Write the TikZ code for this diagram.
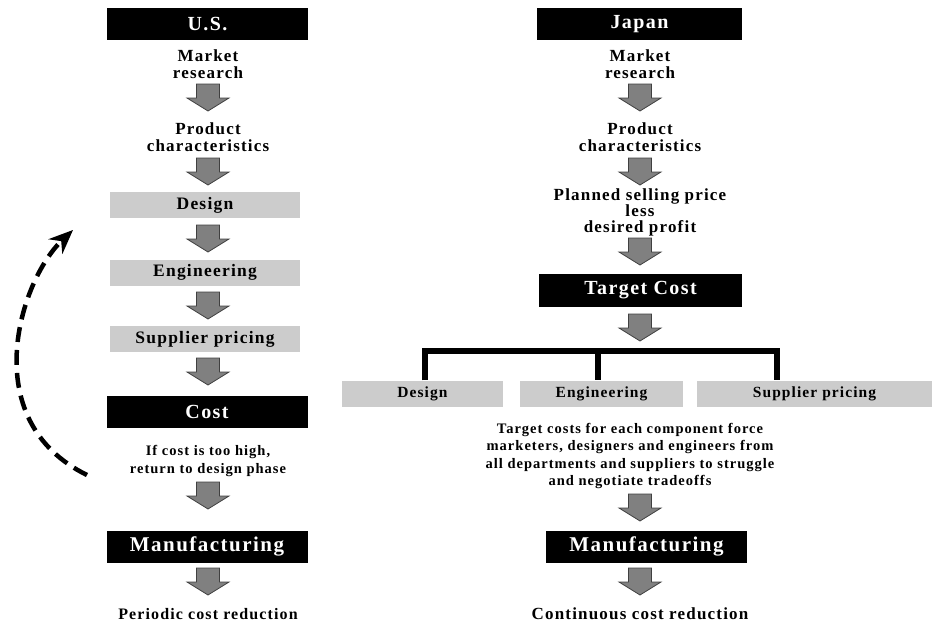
\documentclass[tikz,border=0pt]{standalone}
\usepackage{fontspec}
\setmainfont{Liberation Serif}[LetterSpace=7]
\usetikzlibrary{arrows.meta}
\def\blockarrow(#1,#2){\draw[blockarrow] (#1,#2) ++(-11.5,0) -- ++(23,0) -- ++(0,14) -- ++(9.5,0) -- ++(-21,13) -- ++(-21,-13) -- ++(9.5,0) -- cycle;}

\tikzset{
  hdr/.style={fill=black, text=white, minimum width=201pt, minimum height=32pt, inner sep=0pt, font=\bfseries\fontsize{20}{22}\selectfont},
  stepbar/.style={fill=black!20, minimum height=26pt, inner sep=0pt, font=\bfseries\fontsize{17.5}{19}\selectfont},
  lbl/.style={align=center, inner sep=0pt, font=\bfseries\fontsize{17}{16.5}\selectfont},
  note/.style={align=center, inner sep=0pt, font=\bfseries\fontsize{14.5}{17.5}\selectfont},
  blockarrow/.style={fill=black!50, draw=black!75, line width=0.8pt},
  loopback/.style={line width=4.5pt, dash pattern=on 15pt off 8pt, -{Stealth[length=24pt,width=20pt]}},
  bracket/.style={line width=6pt}
}

\begin{document}
\begin{tikzpicture}[x=1pt, y=-1pt]
		%%%%% START %%%%%
		\useasboundingbox (0,0) rectangle (937,629);
		
		% U.S.
		\node[hdr] (us) at (207.5, 24) {U.S.};
		\node[lbl] (usmkt) at (208, 64) {Market\\research};
		\blockarrow(208,84);
		\node[lbl] (usprod) at (208, 137) {Product\\characteristics};
		\blockarrow(208,158);
		\node[stepbar, minimum width=190pt] (usdesign) at (205, 205) {Design};
		\blockarrow(208,225);
		\node[stepbar, minimum width=190pt] (useng) at (205, 272.5) {Engineering};
		\blockarrow(208,292);
		\node[stepbar, minimum width=190pt] (ussupp) at (205, 339) {Supplier pricing};
		\blockarrow(208,358);
		\node[hdr] (uscost) at (207, 412) {Cost};
		\node[note] (usnote) at (208, 461) {If cost is too high,\\return to design phase};
		\blockarrow(208,482);
		\node[hdr, font=\bfseries\fontsize{21}{22}\selectfont] (usmfg) at (207, 546.5) {Manufacturing};
		\blockarrow(208,568);
		\node[lbl, font=\bfseries\fontsize{16}{17}\selectfont] (usred) at (208, 614) {Periodic cost reduction};
		
		% back to design
		\coordinate (loopstart) at (87, 475);
		\coordinate (loopend) at (73, 230);
		\draw[loopback] (loopstart) .. controls (-25,420) and (20,280) .. (loopend);
		
		% Japan
		\node[hdr, minimum width=205pt] (jp) at (639.5, 24) {Japan};
		\node[lbl] (jpmkt) at (640, 64) {Market\\research};
		\blockarrow(640,84);
		\node[lbl] (jpprod) at (640, 137) {Product\\characteristics};
		\blockarrow(640,158);
		\node[lbl, font=\bfseries\fontsize{17}{16}\selectfont] (jpprice) at (640, 212) {Planned selling price\\less\\desired profit};
		\blockarrow(640,238);
		\node[hdr, minimum width=203pt, minimum height=33pt] (jptarget) at (640.5, 290.5) {Target Cost};
		\blockarrow(640,314);
		
		\node[stepbar, minimum width=161pt, font=\bfseries\fontsize{15.5}{17}\selectfont] (jpdesign) at (422.5, 393.5) {Design};
		\node[stepbar, minimum width=163pt, font=\bfseries\fontsize{15.5}{17}\selectfont] (jpeng) at (601.5, 393.5) {Engineering};
		\node[stepbar, minimum width=235pt, font=\bfseries\fontsize{15.5}{17}\selectfont] (jpsupp) at (814.5, 393.5) {Supplier pricing};
		
		\coordinate (barl) at (425, 351);
		\coordinate (barm) at (598, 351);
		\coordinate (barr) at (777, 351);
		\draw[bracket] (jpdesign.north -| barl) -- (barl) -- (barr) -- (jpsupp.north -| barr);
		\draw[bracket] (barm) -- (jpeng.north -| barm);
		
		\node[note] (jpnote) at (630, 456) {Target costs for each component force\\marketers, designers and engineers from\\all departments and suppliers to struggle\\and negotiate tradeoffs};
		\blockarrow(640,494);
		\node[hdr, font=\bfseries\fontsize{21}{22}\selectfont] (jpmfg) at (646.5, 546.5) {Manufacturing};
		\blockarrow(640,568);
		\node[lbl] (jpred) at (640, 614) {Continuous cost reduction};
		
		%%%%% END %%%%%
	\end{tikzpicture}
\end{document}
